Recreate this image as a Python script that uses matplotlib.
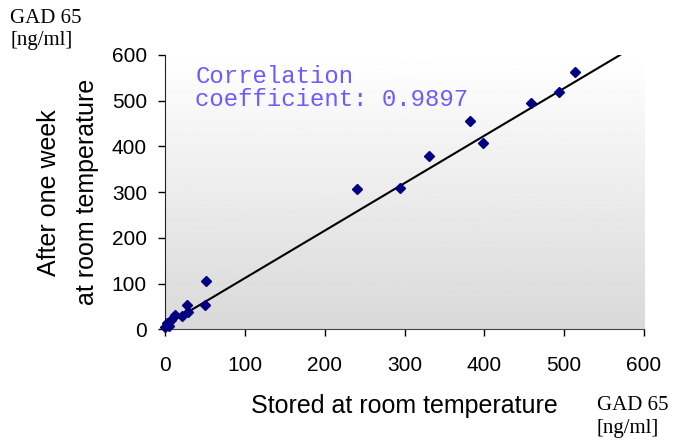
import numpy as np
import matplotlib
matplotlib.use("Agg")
import matplotlib.pyplot as plt

# GAD 65 concentrations [ng/ml]
stored_rt = [0, 2, 5, 8, 12.5, 21, 27, 29, 50, 51,
             241, 294, 331, 382, 398, 458, 493, 514]
after_week = [5, 13, 8, 20, 31, 28, 53, 38, 53, 106,
              306, 308, 378, 456, 408, 495, 519, 562]

# trend line as drawn in the original
trend_x = [0, 570]
trend_y = [8, 600]

x_ticks = [0, 100, 200, 300, 400, 500, 600]
y_ticks = [0, 100, 200, 300, 400, 500, 600]
corr_text = "Correlation\ncoefficient: 0.9897"

fig = plt.figure(figsize=(6.74, 4.42), dpi=100)
ax = fig.add_axes([0.2448, 0.2550, 0.7107, 0.6206])

# gradient plot background, white at top to light gray at bottom
grad = np.linspace(1.0, 0.85, 256).reshape(-1, 1)
ax.imshow(grad, cmap="gray", vmin=0, vmax=1, aspect="auto",
          extent=[0, 1, 0, 1], transform=ax.transAxes, zorder=0)

ax.plot(trend_x, trend_y, color="black", lw=1.5, zorder=2)

ax.plot(stored_rt, after_week, "D", color="#000080", ms=5,
        clip_on=False, zorder=3)

ax.set_xlim(0, 600)
ax.set_ylim(0, 600)
ax.set_xticks(x_ticks)
ax.set_yticks(y_ticks)
ax.tick_params(direction="out", length=5, width=1, labelsize=15)
ax.tick_params(axis="x", pad=14)
ax.tick_params(axis="y", pad=8)
for lbl in ax.get_xticklabels() + ax.get_yticklabels():
    lbl.set_family("Liberation Sans")

ax.spines["top"].set_visible(False)
ax.spines["right"].set_visible(False)
ax.spines["left"].set_color("#222222")
ax.spines["bottom"].set_color("#444444")

ax.set_xlabel("Stored at room temperature", fontsize=18,
              family="Liberation Sans", labelpad=14)
ax.set_ylabel("After one week\nat room temperature", fontsize=18,
              family="Liberation Sans", labelpad=9.5, linespacing=1.7)

ax.text(0.063, 0.965, corr_text, transform=ax.transAxes,
        family="Liberation Mono", fontsize=17.3, color="#6A5CFF",
        va="top", ha="left", linespacing=1.05)

fig.text(10 / 674, 1 - 9 / 442, "GAD 65\n[ng/ml]", family="Liberation Serif",
         fontsize=15, va="top", ha="left", linespacing=1.2)
fig.text(597 / 674, 1 - 396 / 442, "GAD 65\n[ng/ml]", family="Liberation Serif",
         fontsize=15, va="top", ha="left", linespacing=1.25)

fig.savefig("out.png", dpi=100)
